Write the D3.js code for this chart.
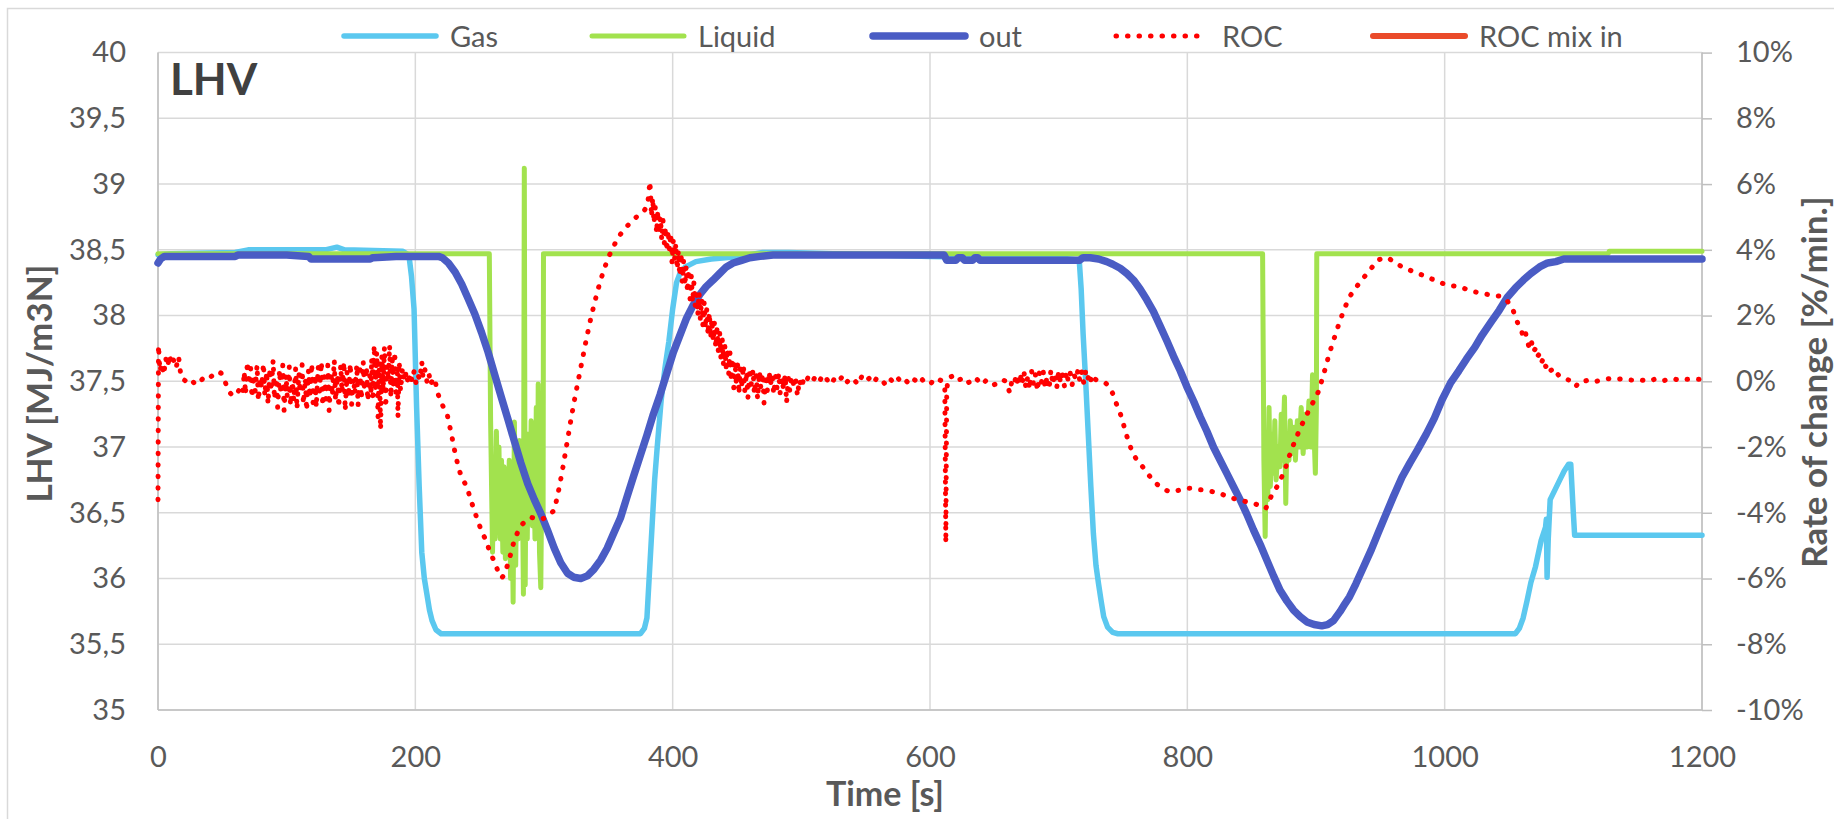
<!DOCTYPE html>
<html><head><meta charset="utf-8">
<script src="https://cdn.jsdelivr.net/npm/d3@7"></script>
<style>
html,body{margin:0;padding:0;background:#fff;}
svg{display:block;}
</style></head><body>
<svg id="chart" width="1834" height="819"></svg>
<script>
// ---------------- DATA ----------------
const timeTicks = [0, 200, 400, 600, 800, 1000, 1200];
const lhvTicks = [35, 35.5, 36, 36.5, 37, 37.5, 38, 38.5, 39, 39.5, 40];
const rocTicks = [-10, -8, -6, -4, -2, 0, 2, 4, 6, 8, 10];
const seriesNames = ["Gas", "Liquid", "out", "ROC", "ROC mix in"];

// [time s, LHV MJ/m3N]
const gas = [[0,38.46],[10,38.47],[60,38.48],[70,38.50],[100,38.50],[130,38.50],[139,38.52],[145,38.50],[190,38.49],[195,38.46],
[197,38.3],[199,38.05],[201,37.3],[203,36.7],[205,36.2],[207,36.0],[209,35.88],[211,35.76],[213,35.68],[216,35.61],[220,35.58],
[375,35.58],[378,35.62],[380,35.70],[382,36.05],[384,36.4],[386,36.75],[388,37.0],[391,37.35],[394,37.6],[397,37.8],[400,38.05],[403,38.25],[406,38.33],[410,38.37],[418,38.41],[430,38.43],[452,38.45],[470,38.48],[490,38.48],[600,38.45],[650,38.44],[700,38.44],[716,38.42],
[717.5,38.2],[719,37.86],[721,37.5],[723,37.1],[725,36.7],[727,36.34],[729,36.1],[731,35.96],[733,35.83],[735,35.71],[738,35.63],[742,35.59],[746,35.58],
[1055,35.58],[1058,35.62],[1061,35.70],[1064,35.83],[1067,35.97],[1070.6,36.09],[1075,36.29],[1078.4,36.39],[1079,36.45],[1079.6,36.01],[1080.5,36.3],[1082,36.6],[1086,36.68],[1089.5,36.75],[1093,36.82],[1096.4,36.87],[1098,36.87],[1100,36.5],[1101,36.33],[1200,36.33]];

const liquid = [[0,38.47],[257.5,38.47],[258.5,37.2],[260,36.2],[261,36.9],[262,36.3],[263,37.12],[264,36.5],[265,37.0],[266,36.3],[267,36.9],[268,36.2],[269,36.85],[270,36.15],[271,36.7],[272,36.4],[273,36.9],[274,36.0],[275,36.8],[276,35.82],[277,37.19],[278,36.1],[279,36.9],[280,36.3],[281,37.05],[282,36.4],[283,36.9],[284,35.88],[284.7,39.12],[285.4,35.95],[286,36.9],[287,36.3],[288,37.1],[289,36.5],[290,37.2],[291,36.4],[292,36.95],[293,36.3],[294,37.3],[295,36.5],[295.5,37.48],[296.5,36.2],[297.5,35.93],[298.5,37.0],[299.3,36.4],[299.6,38.47],
[858.5,38.47],[859.5,36.9],[860.5,36.32],[861.5,37.1],[862.5,36.6],[863.5,37.3],[864.5,36.7],[866,37.1],[867,36.8],[868,37.2],[869,36.75],[870.5,37.0],[872,36.85],[873,37.25],[874,36.9],[875.5,37.38],[876.5,36.57],[877.5,37.1],[879,36.9],[880,37.2],[881.5,36.95],[883,37.15],[884,36.9],[885.5,37.2],[887,37.0],[888.5,37.3],[890,36.95],[891.5,37.25],[893,37.0],[894.5,37.35],[896,37.0],[897.3,37.55],[898.5,37.1],[899.5,36.8],[900.3,37.3],[900.6,38.47],[1127,38.47],[1128,38.49],[1200,38.49]];

const out = [[0,38.40],[2,38.43],[5,38.45],[60,38.45],[62,38.46],[100,38.46],[117,38.45],[119,38.43],[165,38.43],[167,38.44],[185,38.45],[218,38.45],[221,38.44],[225.7,38.40],[231,38.33],[236,38.24],[241,38.13],[246.3,38.01],[251.5,37.87],[256.6,37.72],[261.7,37.55],[266.8,37.38],[272,37.21],[277.1,37.04],[282,36.88],[287.4,36.72],[292.5,36.6],[297.7,36.49],[303,36.36],[308,36.23],[313,36.12],[318.3,36.04],[323,36.01],[328.6,36.0],[333.7,36.02],[338.8,36.07],[344,36.14],[349.1,36.23],[354,36.34],[359.4,36.46],[364.5,36.62],[369.7,36.78],[375,36.94],[380,37.09],[385,37.25],[390.3,37.40],[395.4,37.56],[400.5,37.72],[405.6,37.85],[410.8,37.98],[416,38.08],[421.1,38.16],[426,38.22],[431.4,38.27],[436.5,38.32],[441.7,38.37],[447,38.40],[453.6,38.42],[460,38.44],[468,38.45],[478,38.46],[611,38.46],[613,38.42],[620,38.42],[622,38.44],[625,38.44],[627,38.42],[633,38.42],[635,38.44],[637,38.44],[639,38.42],[716,38.42],[719,38.44],[724.5,38.44],[731,38.43],[737.4,38.41],[742,38.39],[747.8,38.36],[753,38.32],[758.2,38.27],[763.4,38.2],[768.5,38.12],[773.7,38.03],[778.9,37.92],[784,37.81],[789.3,37.69],[794.5,37.58],[799.6,37.46],[804.8,37.35],[810,37.23],[815.2,37.12],[820.3,37.0],[825.5,36.9],[830.7,36.8],[835.8,36.7],[841,36.6],[846.2,36.49],[851.4,36.37],[856.6,36.26],[861.8,36.14],[867,36.02],[872.1,35.91],[877.3,35.83],[882.5,35.76],[887.7,35.71],[892.9,35.67],[898.5,35.65],[904.5,35.64],[909,35.65],[913.6,35.68],[918.8,35.75],[922,35.80],[926,35.86],[931,35.96],[937,36.09],[943,36.22],[948,36.34],[954,36.48],[960,36.62],[966.8,36.77],[973,36.88],[979,36.98],[985.8,37.1],[992,37.22],[998,37.36],[1004.7,37.49],[1011,37.58],[1017,37.67],[1023.5,37.76],[1029,37.85],[1036,37.95],[1042.4,38.04],[1048.7,38.14],[1055,38.21],[1061.2,38.27],[1067,38.32],[1073.8,38.37],[1080,38.40],[1086.4,38.41],[1092.6,38.43],[1200,38.43]];

// [time s, rate of change %/min]
const roc = [[0,-3.6],[0.4,1.1],[1.5,0.3],[3,0.55],[4.5,0.2],[6,0.7],[7.5,0.45],[9,0.8],[10.5,0.5],[12,0.65],[14,0.4],[16,0.75],[18,0.1],[20,0.05],
[22,0.0],[25,0.08],[28,-0.05],[31,0.1],[34,0.05],[37,0.15],[40,0.1],[43,0.2],[46,0.3],[49,0.25],[52,0.0],[55,-0.3],[58,-0.45],[61,-0.4],[64,-0.2],[66,-0.35],
[67,0.3],[68,-0.4],[69.5,0.6],[70.5,-0.1],[72,0.4],[73,-0.5],[74.5,0.2],[75.5,-0.3],[77,0.5],[78,-0.6],[79.5,0.1],[80.5,-0.2],[82,0.55],[83,-0.45],[84.5,0.3],[85.5,-0.7],[87,0.4],[88,-0.3],[89.5,0.65],[90.5,-0.55],[92,0.1],[93,-0.8],[94.5,0.35],[95.5,-0.4],[97,0.5],[98,-0.9],[99.5,0.2],[100.5,-0.5],[102,0.45],[103,-0.75],[104.5,0.0],[105.5,-0.6],[107,0.4],[108,-0.85],[109.5,0.25],[110.5,-0.35],[112,0.5],[113,-0.7],[114.5,0.1],[115.5,-0.9],[117,0.35],[118,-0.5],[119.5,0.55],[120.5,-0.65],[122,0.2],[123,-0.8],[124.5,0.45],[125.5,-0.3],[127,0.6],[128,-0.75],[129.5,0.15],[130.5,-0.55],[132,0.5],[133,-0.9],[134.5,0.3],[135.5,-0.45],[137,0.65],[138,-0.6],[139.5,0.2],[140.5,-0.8],[142,0.5],[143,-0.35],[144.5,0.6],[145.5,-0.9],[147,0.3],[148,-0.5],[149.5,0.55],[150.5,-0.7],[152,0.1],[153,-0.4],[154.5,0.5],[155.5,-0.75],[157,0.35],[158,-0.55],[159.5,0.6],[160.5,-0.3],[162,0.45],[163,-0.6],[164.5,0.2],[165.5,-0.4],
[166,0.7],[167,-0.6],[168,1.1],[169,-0.2],[170,0.9],[171,-1.1],[172,0.6],[173,-1.47],[174,0.8],[175,-0.3],[176,1.05],[177,-0.8],[178,0.5],[179,0.0],[180,1.1],[181,-0.5],[182,0.7],[183,-0.2],[184,0.9],[185,-0.5],[186,0.3],[186.5,-1.1],[187.5,0.6],[188.5,-0.3],[190,0.4],[191.5,0.0],[193,0.3],[194.5,-0.1],[196,0.25],[197.5,0.0],[199,0.3],[200.5,-0.05],[202,0.2],[203.5,0.05],[205,0.6],[206,0.1],[207.5,0.35],[209,0.0],[210.5,0.25],[212,-0.1],[213.5,0.05],
[215,0.1],[217,-0.3],[219,-0.55],[222,-0.8],[225,-1.05],[228,-1.6],[231,-2.2],[234,-2.7],[237,-3.0],[240,-3.2],[243,-3.6],[246,-3.95],[249,-4.3],[252,-4.6],[255,-4.85],[258,-5.2],[261,-5.45],[264,-5.75],[267,-5.98],
[269,-5.9],[272,-5.55],[274.5,-5.2],[277,-4.82],[280,-4.55],[283,-4.35],[286,-4.25],[290,-4.14],[294,-4.18],[298,-4.2],[301,-4.15],[304,-4.05],[308,-3.93],[312,-3.2],[315,-2.55],[318,-1.85],[321,-1.15],[324,-0.5],[327,0.1],[330,0.7],[333,1.3],[336,1.85],[339,2.35],[342,2.8],[345,3.2],[348,3.55],[351,3.85],[354,4.1],[358,4.4],[362,4.6],[366,4.78],[370,4.93],[374,5.08],[378,5.2],[380.5,5.35],[381.5,5.75],[382.3,6.08],[383,5.6],
[383.5,5.0],[384.5,5.6],[385.5,4.8],[386.5,5.3],[387.5,4.5],[388.5,5.2],[389.5,4.6],[390.5,5.0],[391.5,4.3],[392.5,4.9],[393.5,4.2],[394.5,4.7],[395.5,3.95],[396.5,4.6],[397.5,4.0],[398.5,4.5],[399.5,3.6],[400.5,4.3],[401.5,3.7],[402.5,4.2],[403.5,3.4],[404.5,4.0],[405.5,3.2],[406.5,3.9],[407.5,3.0],[408.5,3.7],[409.5,2.9],[410.5,3.5],[411.5,2.7],[412.5,3.4],[413.5,2.5],[414.5,3.2],[415.5,2.4],[416.5,3.0],[417.5,2.3],[418.5,2.8],[419.5,2.0],[420.5,2.7],[421.5,1.9],[422.5,2.5],[423.5,1.7],[424.5,2.4],[425.5,1.6],[426.5,2.2],[427.5,1.4],[428.5,2.1],[429.5,1.3],[430.5,1.9],[431.5,1.2],[432.5,1.8],[433.5,1.0],[434.5,1.6],[435.5,0.9],[436.5,1.5],[437.5,0.7],[438.5,1.3],[439.5,0.5],[440.5,1.1],[441.5,0.4],[442.5,1.0],[443.5,0.2],[444.5,0.9],[445.5,0.0],[446.5,0.7],[447.5,-0.2],[448.5,0.6],[449.5,-0.1],[450.5,0.5],[451.5,-0.4],[452.5,0.4],[453.5,-0.2],[455,0.5],[456,-0.3],[457.5,0.3],[458.5,-0.5],[460,0.4],[461,-0.1],[462.5,0.35],[463.5,-0.4],[465,0.2],[466,-0.55],[467.5,0.3],[468.5,-0.2],[470,0.25],[471,-0.66],[472.5,0.2],[473.5,-0.3],[475,0.3],[476,-0.1],[477.5,0.2],[478.5,-0.4],[480,0.15],[481,-0.2],[482.5,0.25],[483.5,-0.35],[485,0.1],[486,-0.2],[487.5,0.2],[488.5,-0.66],[490,0.1],[491,-0.3],[492.5,0.15],[494,-0.1],[495.5,0.1],[497,-0.45],[498.5,0.05],[500,-0.2],[502,0.1],[504,0.0],
[505,0.1],[508,-0.05],[511,0.15],[514,0.0],[517,0.2],[520,0.05],[523,-0.1],[526,0.1],[529,0.0],[532,0.15],[535,-0.05],[538,0.1],[541,0.05],[544,-0.1],[547,0.15],[550,0.0],[553,0.1],[556,-0.05],[559,0.12],[562,0.05],[565,-0.08],[568,0.1],[571,0.0],[574,0.15],[577,0.0],[580,0.08],[583,-0.05],[586,0.1],[589,0.02],[592,0.15],[595,0.0],[598,0.05],[601,-0.05],[604,0.1],[607,0.05],[610,0.0],[611.5,-0.2],[612.3,-4.92],[613,-0.3],[614,0.1],[617,0.15],[620,0.0],[623,0.05],[626,0.1],[629,-0.05],[632,0.0],[635,0.12],[638,0.0],[641,-0.1],[644,0.05],[647,0.0],[650,-0.1],[653,-0.05],[656,0.05],[659,0.0],[662,-0.35],[664,0.1],[666,0.0],
[667,0.2],[668.5,-0.15],[670,0.25],[671.5,-0.1],[673,0.3],[674.5,-0.2],[676,0.15],[677.5,-0.25],[679,0.3],[680.5,-0.1],[682,0.2],[683.5,-0.3],[685,0.25],[686.5,-0.05],[688,0.3],[689.5,-0.2],[691,0.15],[692.5,-0.25],[694,0.35],[695.5,-0.1],[697,0.25],[698.5,-0.2],[700,0.3],[701.5,-0.05],[703,0.2],[704.5,-0.15],[706,0.3],[707.5,0.0],[709,0.25],[710.5,-0.1],[712,0.2],[713.5,0.05],[715,0.35],[716.5,0.0],[718,0.3],[719.5,-0.05],[721,0.3],[722.5,0.05],[724,0.25],[725.5,-0.05],[727,0.1],[729,0.05],[731.6,0.04],
[736.7,-0.06],[739,-0.15],[741.9,-0.36],[745,-0.7],[747,-0.87],[750,-1.25],[752.2,-1.58],[755,-1.9],[757.4,-2.19],[761,-2.4],[765.2,-2.6],[769,-2.8],[773,-3.0],[777,-3.15],[780.7,-3.26],[784.5,-3.33],[788.5,-3.36],[793,-3.32],[798.8,-3.26],[804,-3.25],[809.8,-3.3],[814.4,-3.31],[820,-3.36],[824.8,-3.41],[830,-3.48],[835.1,-3.56],[840,-3.6],[845.5,-3.66],[850,-3.7],[855.9,-3.77],[859,-3.82],[861,-3.87],[863.5,-3.65],[866.2,-3.41],[869,-3.25],[871.4,-3.1],[874,-2.85],[876.6,-2.6],[879,-2.3],[881.8,-1.99],[884.5,-1.75],[887,-1.48],[889.5,-1.28],[892.1,-1.07],[894.7,-0.87],[897.3,-0.67],[900,-0.47],[902.5,-0.26],[905,0.1],[907.7,0.45],[910,0.8],[912.9,1.16],[915.5,1.47],[918,1.77],[922,2.2],[926,2.57],[931,2.85],[935.5,3.08],[941.8,3.38],[948,3.69],[952,3.74],[955.9,3.76],[961,3.62],[966.9,3.48],[973,3.38],[979.5,3.28],[986,3.18],[992,3.08],[1001.5,2.93],[1011,2.88],[1017,2.8],[1023.5,2.72],[1030,2.67],[1036,2.62],[1041,2.6],[1045.5,2.57],[1048.6,2.45],[1051,2.3],[1053.3,2.15],[1055.5,1.9],[1058,1.65],[1060,1.5],[1061.5,1.3],[1063,1.45],[1064.3,1.2],[1066,1.0],[1067.5,1.2],[1069,0.9],[1070.6,1.0],[1072,0.75],[1074,0.85],[1075.5,0.6],[1077,0.7],[1078.5,0.45],[1080,0.5],[1081.5,0.3],[1083.2,0.35],[1085,0.2],[1087,0.25],[1089.4,0.15],[1092,0.1],[1095.7,0.05],[1099,0.0],[1102,-0.15],[1105,0.0],[1108.3,0.0],[1113,0.05],[1118,0.0],[1123,0.05],[1128,0.08],[1133,0.05],[1138,0.08],[1143,0.05],[1148,0.02],[1153,0.04],[1158,0.0],[1163,0.06],[1168,0.0],[1173,0.05],[1178,0.08],[1183,0.02],[1188,0.06],[1193,0.07],[1198,0.06]];

const rocMixIn = []; // series present in legend only

// ---------------- DRAW ----------------
const W = 1834, H = 819;
const pl = 158, pr = 1702, pt = 52.6, pb = 710;
const FONT = "Lato, 'Open Sans', sans-serif";
const TXT = "#595959";
const colors = {"Gas":"#5BC8EF","Liquid":"#A2E24E","out":"#4A5CC4","ROC":"#FF0000","ROC mix in":"#EA4B2A"};
const widths = {"Gas":5.5,"Liquid":5,"out":7.5,"ROC":5,"ROC mix in":6};

const svg = d3.select("#chart");
svg.append("rect").attr("width", W).attr("height", H).attr("fill", "#fff");
svg.append("rect").attr("x", 7.5).attr("y", 8.5).attr("width", W + 50).attr("height", H + 50)
  .attr("fill", "none").attr("stroke", "#D9D9D9").attr("stroke-width", 1.5);

const x = d3.scaleLinear().domain([0, 1200]).range([pl, pr]);
const yL = d3.scaleLinear().domain([35, 40]).range([pb, pt]);
const yR = d3.scaleLinear().domain([-10, 10]).range([pb, pt]);

// gridlines
const grid = svg.append("g");
grid.selectAll("line.gh").data(lhvTicks).join("line").attr("class", "gh")
  .attr("x1", pl).attr("x2", pr).attr("y1", d => yL(d)).attr("y2", d => yL(d))
  .attr("stroke", "#D9D9D9").attr("stroke-width", 1.5);
grid.selectAll("line.gv").data(timeTicks).join("line").attr("class", "gv")
  .attr("x1", d => x(d)).attr("x2", d => x(d)).attr("y1", pt).attr("y2", pb)
  .attr("stroke", "#D9D9D9").attr("stroke-width", 1.5);
// axis lines
svg.append("line").attr("x1", pl).attr("x2", pl).attr("y1", pt).attr("y2", pb).attr("stroke", "#BFBFBF").attr("stroke-width", 1.5);
svg.append("line").attr("x1", pr).attr("x2", pr).attr("y1", pt).attr("y2", pb).attr("stroke", "#BFBFBF").attr("stroke-width", 1.5);
svg.append("line").attr("x1", pl).attr("x2", pr).attr("y1", pb).attr("y2", pb).attr("stroke", "#BFBFBF").attr("stroke-width", 1.5);

function styleAxis(g) {
  g.select(".domain").remove();
  g.selectAll("text").attr("font-family", FONT).attr("font-size", 29).attr("fill", TXT);
}
const fmtL = d => d3.format(".1~f")(d).replace(".", ",");
svg.append("g").attr("transform", `translate(${pl},0)`)
  .call(d3.axisLeft(yL).tickValues(lhvTicks).tickSize(0).tickPadding(32).tickFormat(fmtL))
  .call(styleAxis);
svg.append("g").attr("transform", `translate(0,${pb})`)
  .call(d3.axisBottom(x).tickValues(timeTicks).tickSize(0).tickPadding(36).tickFormat(d3.format("d")))
  .call(styleAxis);
const rAx = svg.append("g").attr("transform", `translate(${pr},0)`)
  .call(d3.axisRight(yR).tickValues(rocTicks).tickSize(10).tickPadding(24).tickFormat(d => d + "%"))
  .call(styleAxis);
rAx.selectAll(".tick line").attr("stroke", "#BFBFBF").attr("stroke-width", 1.5);

// series
const lineL = d3.line().x(d => x(d[0])).y(d => yL(d[1]));
const lineR = d3.line().x(d => x(d[0])).y(d => yR(d[1]));
const plot = svg.append("g").attr("fill", "none").attr("stroke-linejoin", "round");
[["Gas", gas], ["Liquid", liquid], ["out", out]].forEach(([n, data]) => {
  plot.append("path").datum(data).attr("d", lineL)
    .attr("stroke", colors[n]).attr("stroke-width", widths[n]).attr("stroke-linecap", "round");
});
plot.append("path").datum(roc).attr("d", lineR)
  .attr("stroke", colors["ROC"]).attr("stroke-width", widths["ROC"])
  .attr("stroke-linecap", "round").attr("stroke-dasharray", "0.5 11");
if (rocMixIn.length) {
  plot.append("path").datum(rocMixIn).attr("d", lineR)
    .attr("stroke", colors["ROC mix in"]).attr("stroke-width", widths["ROC mix in"]);
}

// chart title
svg.append("text").attr("x", 170).attr("y", 95).text("LHV")
  .attr("font-family", FONT).attr("font-weight", 700).attr("font-size", 44).attr("fill", "#404040");

// axis titles
svg.append("text").attr("transform", "translate(52,383.5) rotate(-90)").attr("text-anchor", "middle")
  .text("LHV [MJ/m3N]").attr("font-family", FONT).attr("font-weight", 700).attr("font-size", 35).attr("fill", TXT);
svg.append("text").attr("transform", "translate(1827,382) rotate(-90)").attr("text-anchor", "middle")
  .text("Rate of change [%/min.]").attr("font-family", FONT).attr("font-weight", 700).attr("font-size", 35).attr("fill", TXT);
svg.append("text").attr("x", 885).attr("y", 806).attr("text-anchor", "middle")
  .text("Time [s]").attr("font-family", FONT).attr("font-weight", 700).attr("font-size", 34).attr("fill", TXT);

// legend
const legendX = [450, 698, 979, 1222, 1479];
const lg = svg.append("g");
seriesNames.forEach((n, i) => {
  const tx = legendX[i];
  const ln = lg.append("line").attr("x1", tx - 106).attr("x2", tx - 14).attr("y1", 36).attr("y2", 36)
    .attr("stroke", colors[n]).attr("stroke-width", widths[n]).attr("stroke-linecap", "round");
  if (n === "ROC") ln.attr("stroke-dasharray", "0.5 11");
  lg.append("text").attr("x", tx).attr("y", 47).text(n)
    .attr("font-family", FONT).attr("font-size", 29).attr("fill", TXT);
});
</script>
</body></html>
